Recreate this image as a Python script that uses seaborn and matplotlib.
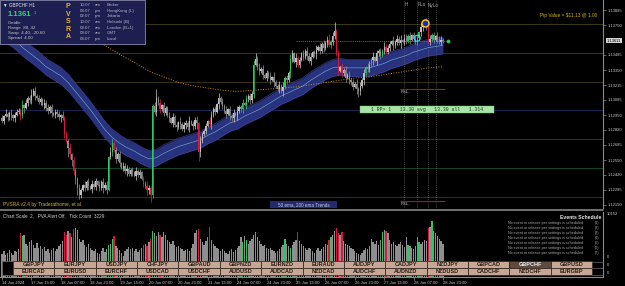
import numpy as np
import pandas as pd
import matplotlib
matplotlib.use('Agg')
import matplotlib.pyplot as plt
from matplotlib.patches import Rectangle
import seaborn as sns

# GBPCHF H1, 14 Jun 23:00 .. 28 Jun 23:00 (241 bars), prices as pips above 1.1200
first_open_pips = 92
close_pips = [
    90, 94, 96, 93, 97, 95, 92, 95, 98, 99,
    94, 104, 101, 106, 110, 108, 113, 116, 112, 110,
    107, 109, 104, 106, 101, 99, 102, 97, 95, 98,
    96, 93, 95, 92, 78, 72, 66, 60, 55, 45,
    38, 30, 24, 28, 33, 30, 35, 32, 29, 34,
    31, 36, 33, 30, 35, 30, 33, 28, 58, 62,
    70, 64, 56, 60, 52, 48, 50, 45, 47, 43,
    46, 44, 41, 45, 42, 44, 38, 34, 32, 28,
    30, 24, 103, 98, 110, 106, 100, 104, 97, 101,
    95, 92, 88, 93, 86, 84, 89, 87, 83, 86,
    88, 84, 90, 87, 85, 91, 88, 62, 72, 78,
    81, 85, 90, 87, 95, 100, 98, 105, 110, 107,
    103, 99, 96, 100, 94, 92, 97, 95, 99, 102,
    100, 106, 104, 109, 112, 108, 114, 140, 145, 138,
    134, 136, 131, 128, 132, 130, 126, 129, 124, 121,
    118, 122, 116, 120, 128, 126, 132, 145, 150, 142,
    146, 140, 144, 150, 147, 152, 148, 143, 147, 151,
    149, 153, 156, 152, 158, 155, 159, 162, 157, 160,
    165, 170, 150, 134, 138, 132, 135, 128, 131, 126,
    124, 120, 123, 118, 116, 121, 126, 132, 138, 136,
    140, 144, 147, 143, 150, 152, 148, 153, 156, 151,
    155, 158, 161, 157, 160, 163, 159, 162, 160, 164,
    161, 165, 162, 166, 163, 160, 164, 169, 173, 176,
    177, 175, 160, 163, 166, 162, 165, 163, 160, 162, 161.1]

# wick lengths in pips, one digit per bar
wick_up = ("3142231322" "2413235342" "3213242312" "2314232413" "3242132413"
           "2313242315" "4232313242" "2314231324" "3224823132" "2314231423"
           "3241323142" "2313423152" "3241323142" "2314232453" "3241323142"
           "2314232431" "4231324231" "2413242352" "4823132413" "2314232413"
           "3241323142" "2314232413" "3241323143" "2413231423" "2")
wick_dn = ("2313242312" "3241323142" "2314232413" "3241328453" "4643132413"
           "2313242312" "3242313242" "2314231324" "3632423132" "2314231423"
           "3241325842" "2313423152" "3241323142" "2314232413" "3241323142"
           "2314232431" "4231324231" "2413242312" "3223132413" "2314532413"
           "3241323142" "2314232413" "3241323143" "2413231423" "2")

# tick volume, hundreds
vol_h = [
    36, 40, 34, 38, 42, 37, 35, 41, 39, 44,
    69, 64, 66, 52, 48, 55, 58, 50, 46, 53,
    45, 49, 43, 47, 40, 44, 38, 42, 46, 41,
    44, 48, 52, 56, 70, 66, 72, 68, 62, 75,
    77, 73, 60, 55, 58, 50, 47, 52, 45, 42,
    40, 44, 38, 36, 41, 46, 39, 43, 50, 52,
    60, 64, 48, 45, 42, 38, 33, 40, 44, 47,
    43, 46, 41, 44, 39, 42, 45, 50, 52, 48,
    55, 60, 72, 68, 64, 70, 66, 62, 71, 65,
    58, 55, 52, 56, 50, 47, 49, 45, 43, 40,
    42, 44, 40, 46, 52, 68, 73, 75, 60, 55,
    50, 56, 62, 78, 58, 52, 48, 45, 43, 40,
    44, 41, 38, 36, 40, 43, 39, 42, 45, 48,
    62, 55, 64, 58, 52, 56, 60, 66, 70, 62,
    56, 52, 48, 50, 46, 43, 45, 42, 40, 38,
    41, 44, 47, 50, 60, 52, 48, 46, 50, 54,
    58, 70, 56, 52, 48, 45, 42, 46, 43, 40,
    38, 42, 45, 40, 44, 47, 52, 50, 58, 62,
    66, 72, 76, 68, 65, 70, 56, 52, 50, 48,
    45, 43, 40, 38, 36, 34, 38, 42, 46, 44,
    48, 60, 54, 52, 56, 50, 58, 70, 74, 72,
    68, 58, 52, 54, 50, 48, 52, 55, 50, 47,
    62, 50, 48, 46, 44, 48, 63, 55, 52, 54,
    58, 56, 76, 78, 88, 72, 68, 64, 60, 56, 52]

# PVSRA climax bars
red_bars = [10, 34, 35, 37, 39, 61, 77, 79, 81, 86, 107, 113, 161, 178, 182, 183, 185, 209, 232]
green_bars = [11, 58, 60, 82, 131, 133, 137, 154, 157, 179, 198, 201, 207, 221, 226, 227, 234]

# 50 ema (every 4 bars) and 200 ema (every 8 bars), pips above 1.1200
ema50_pips = [169, 165, 160, 154, 149, 144, 138, 134, 130, 124,
              116, 108, 100, 91, 82, 75, 70, 66, 63, 59,
              56, 57, 61, 64, 67, 69, 71, 73, 77, 80,
              84, 88, 90, 94, 97, 100, 104, 108, 112, 115,
              118, 121, 126, 130, 134, 137, 138, 137, 137, 137,
              137, 139, 141, 144, 146, 148, 151, 153, 155, 156, 157]
ema200_pips = [191, 187, 183, 178, 173, 169, 163, 157, 149, 142,
               134, 129, 124, 121, 119, 117, 116, 117, 118, 119,
               120, 122, 124, 126, 128, 129, 131, 133, 135, 137, 138]
band_half_pips = 7.5

level_prices = [1.13760, 1.13502, 1.13244, 1.12995, 1.12737, 1.12479, 1.12221]
level_colors = ['#3b3a14', '#174236', '#3a3118', '#1b2654', '#3a3214', '#16482b', '#3d2e16']
rsl_levels = [1.13180, 1.12182]
session_bars = [219, 226, 232, 236]
session_names = ['H', 'PLo', 'NyLo']
bid = 1.13611
swing_high = (230, 1.13770)
swing_mark = (226, 1.13633)
axis_prices = [1.13885, 1.13750, 1.13485, 1.13350, 1.13215, 1.13085, 1.12950,
               1.12820, 1.12685, 1.12550, 1.12420, 1.12285, 1.12150]
date_bars = list(range(0, 241, 16))
date_labels = ['14 Jun 2024', '17 Jun 15:00', '18 Jun 07:00', '18 Jun 23:00', '19 Jun 15:00',
               '20 Jun 07:00', '20 Jun 23:00', '21 Jun 15:00', '24 Jun 07:00', '24 Jun 23:00',
               '25 Jun 15:00', '26 Jun 07:00', '26 Jun 23:00', '27 Jun 15:00', '28 Jun 07:00',
               '28 Jun 23:00']
row1 = ['GBPJPY', 'EURJPY', 'USDJPY', 'CHFJPY', 'GBPAUD', 'GBPNZD', 'EURNZD',
        'EURAUD', 'AUDJPY', 'CADJPY', 'NZDJPY', 'GBPCAD', 'GBPCHF', 'GBPUSD']
row2 = ['EURCAD', 'EURUSD', 'EURCHF', 'USDCAD', 'USDCHF', 'AUDUSD', 'AUDCAD',
        'NZDCAD', 'AUDCHF', 'AUDNZD', 'NZDUSD', 'CADCHF', 'NZDCHF', 'EURGBP']
clock_rows = [('10:07', 'am', 'Broker'), ('03:07', 'pm', 'HongKong (L)'), ('02:07', 'pm', 'Jakarta'),
              ('10:07', 'am', 'Helsinki (B)'), ('08:07', 'am', 'London (B+1)'),
              ('08:07', 'am', 'GMT'), ('03:07', 'pm', 'Local')]

RED, GREEN, BULL, BEAR, VOLGREY = '#d81b3c', '#2ec460', '#bdbdbd', '#8a8a8a', '#8e8e8e'

sns.set_theme(style='dark', rc={'axes.facecolor': 'black', 'figure.facecolor': 'black'})
plt.rcParams['font.family'] = ['Liberation Sans', 'DejaVu Sans']

W, H = 625, 286
fig = plt.figure(figsize=(W / 100, H / 100), dpi=100)
fig.patch.set_facecolor('black')


def px(x0, y0, x1, y1):
    return [x0 / W, 1 - y1 / H, (x1 - x0) / W, (y1 - y0) / H]


bars = np.arange(len(close_pips))
close = 1.12 + np.array(close_pips) / 1e4
opn = np.r_[1.12 + first_open_pips / 1e4, close[:-1]]
hi = np.maximum(opn, close) + np.array([int(c) for c in wick_up]) / 1e4
lo = np.minimum(opn, close) - np.array([int(c) for c in wick_dn]) / 1e4

kind = np.array(['n'] * len(bars), dtype=object)
kind[red_bars] = 'r'
kind[green_bars] = 'g'
ccol = np.where(kind == 'r', RED, np.where(kind == 'g', GREEN, np.where(close >= opn, BULL, BEAR)))

xlim = (-1.09, 327.1)

# ---------------- main price panel ----------------
ax = fig.add_axes(px(0, 0, 603, 208))
ax.set_facecolor('black')
for lvl, c in zip(level_prices, level_colors):
    ax.axhline(lvl, color=c, lw=0.7, zorder=1)

e50_x = np.arange(0, 241, 4)
e50 = 1.12 + np.array(ema50_pips) / 1e4
half = band_half_pips / 1e4
ax.fill_between(e50_x, e50 - half, e50 + half, color='#29327c', lw=0, zorder=2)
ax.plot(e50_x, e50 - half, color='#3a46a0', lw=0.4, zorder=2)
ax.plot(e50_x, e50 + half, color='#3a46a0', lw=0.4, zorder=2)
sns.lineplot(x=e50_x, y=e50, ax=ax, color='#6fa6dc', lw=0.45, zorder=3)
e200_x = np.arange(0, 241, 8)
sns.lineplot(x=e200_x, y=1.12 + np.array(ema200_pips) / 1e4, ax=ax, color='#d08a1c',
             lw=0.7, linestyle=(0, (1, 1.6)), zorder=3)

ax.vlines(session_bars, 1.1212, 1.1398, colors='#5e5e5e', linestyles=(0, (1, 1.5)), lw=0.6, zorder=2)
ax.hlines(bid, 160, 242, colors='#8c8c8c', linestyles=(0, (1.5, 1.5)), lw=0.5, zorder=2)

ax.vlines(bars, lo, hi, colors=ccol, lw=0.55, zorder=5)
body_lo = np.minimum(opn, close)
body_h = np.maximum(np.abs(close - opn), 0.00002)
ax.bar(bars, body_h, bottom=body_lo, width=0.72, color=ccol, lw=0, zorder=6)

ax.scatter([swing_high[0]], [swing_high[1]], s=26, facecolors='#1a2ad0', edgecolors='#ffd21e',
           linewidths=1.0, zorder=8)
ax.scatter([swing_mark[0]], [swing_mark[1]], s=18, facecolors='none', edgecolors='#35d6f0',
           linewidths=0.9, zorder=8)
ax.scatter([243], [bid], s=3, color='#1fcc55', zorder=8)

ax.hlines(rsl_levels, 216.5, 241, colors='#b0102c', lw=0.8, zorder=7)
for lvl in rsl_levels:
    ax.annotate('RSL-', (217, lvl), xytext=(0, -0.8), textcoords='offset points',
                va='top', ha='left', fontsize=3, color='#c8c8c8', zorder=7)

for b, name in zip([220, 226.4, 231.8], session_names):
    ax.text(b, 1 - 5 / 208, name, transform=ax.get_xaxis_transform(),
            ha='center' if name == 'H' else 'left', va='center', fontsize=3.3, color='#b0b0b0')

ax.set_xlim(*xlim)
ax.set_ylim(1.12123, 1.13974)
ax.set_xlabel('')
ax.set_ylabel('')
ax.set_xticks([])
ax.yaxis.tick_right()
ax.set_yticks(axis_prices)
ax.set_yticklabels([f'{p:.5f}' for p in axis_prices])
ax.tick_params(axis='y', colors='#8a8a8a', labelcolor='#c8c8c8', labelsize=3, length=2,
               width=0.5, pad=1.5, right=True, left=False)
ax.grid(False)
for s in ['top', 'left', 'bottom']:
    ax.spines[s].set_visible(False)
ax.spines['right'].set_color('#8a8a8a')
ax.spines['right'].set_linewidth(0.8)
ax.annotate(f'{bid:.5f}', xy=(1, bid), xycoords=('axes fraction', 'data'), xytext=(2.6, 0),
            textcoords='offset points', va='center', ha='left', fontsize=3, color='black',
            bbox=dict(boxstyle='square,pad=0.15', fc='#d4d4d4', ec='none'))

# ---------------- volume panel ----------------
ax_vol = fig.add_axes(px(0, 212, 603, 277))
ax_vol.set_facecolor('black')
vol_df = pd.DataFrame({'bar': bars, 'ticks': np.array(vol_h) * 100, 'kind': kind})
sns.barplot(data=vol_df, x='bar', y='ticks', hue='kind', native_scale=True, dodge=False,
            palette={'n': VOLGREY, 'r': RED, 'g': GREEN}, errorbar=None, width=0.72,
            saturation=1, legend=False, linewidth=0, ax=ax_vol)
ax_vol.set_xlim(*xlim)
ax_vol.set_ylim(0, 10152)
ax_vol.set_xlabel('')
ax_vol.set_ylabel('')
ax_vol.set_yticks([])
ax_vol.set_xticks(date_bars)
ax_vol.set_xticklabels(date_labels, ha='left')
ax_vol.tick_params(axis='x', colors='#8a8a8a', labelcolor='#c8c8c8', labelsize=3, length=2,
                   width=0.5, pad=0.8, bottom=True)
ax_vol.grid(False)
for s in ['top', 'left']:
    ax_vol.spines[s].set_visible(False)
for s in ['right', 'bottom']:
    ax_vol.spines[s].set_color('#8a8a8a')
    ax_vol.spines[s].set_linewidth(0.8)

# ---------------- overlay: boxes, buttons, labels ----------------
ov = fig.add_axes([0, 0, 1, 1])
ov.set_xlim(0, W)
ov.set_ylim(H, 0)
ov.axis('off')
ov.patch.set_alpha(0)
ov.set_zorder(10)


def t(x, y, s, **kw):
    kw.setdefault('fontsize', 3.2)
    kw.setdefault('va', 'center')
    ov.text(x, y, s, **kw)


# info box
ov.add_patch(Rectangle((0, 0), 144.5, 43.5, fc='#1d1f50', ec='#8a8ab0', lw=0.6))
t(3, 5, '▼ GBPCHF H1', color='#e8e8e8', fontsize=3.3)
t(8, 15, '1.1361', color='#2fd37a', fontsize=5.6, fontweight='bold')
t(34, 12.5, '1', color='#2fd37a', fontsize=3)
for i, s in enumerate(['Candle', 'Range  88, 42', 'Swap  4.40, -20.60', 'Spread  4.00']):
    t(8, 23 + 5 * i, s, color='#c4c4c4')
for i, ch in enumerate('PVSRA'):
    t(68, 7 + 7.4 * i, ch, color='#e6b422', fontsize=5, fontweight='bold', ha='center')
for i, (tm, ap, place) in enumerate(clock_rows):
    y = 5 + 5.7 * i
    t(80, y, tm, color='#b4b4c8')
    t(95, y, ap, color='#b4b4c8')
    t(107, y, place, color='#b4b4c8')

t(597, 15, 'Pip Value = $11.13 @ 1.00', color='#d9b600', fontsize=3.4, ha='right')

ov.add_patch(Rectangle((360, 106), 134, 7, fc='#a7e4a7', ec='#7fc07f', lw=0.3))
t(427, 109.7, '1 RP> 1   13.30 avg   13.30 all   1.314', color='#1e3a1e', fontsize=3.5,
  ha='center', family=['Liberation Mono', 'DejaVu Sans Mono'])

t(3, 204.5, 'PVSRA v2.4 by Traderathome, et al.', color='#d6ad2e', fontsize=3.5)
ov.add_patch(Rectangle((270, 201), 67, 6.5, fc='#232a6e', ec='none'))
t(303.5, 204.3, '50 ema, 200 ema Trends', color='#c8cde8', fontsize=3.3, ha='center')

ov.plot([0, 603], [209.8, 209.8], color='#7c7c7c', lw=1.3)
t(3, 215.5, 'Chart Scale  2,   PVA Alert Off,   Tick Count  3229', color='#d0d0d0', fontsize=3.3)

t(601, 217.5, 'Events Schedule', color='#e8e8e8', fontsize=3.7, fontweight='bold', ha='right')
for k in range(1, 8):
    y = 223 + 5 * (k - 1)
    t(508, y, 'No event or release per settings is scheduled', color='#a8a8a8', fontsize=2.7)
    t(599, y, f'({k})', color='#a8a8a8', fontsize=2.7, ha='right')

t(607, 214, '10152', color='#c8c8c8', fontsize=3)
for y in [257, 265, 273]:
    t(607, y, '0', color='#c8c8c8', fontsize=3)

ov.add_patch(Rectangle((2, 261), 11, 14, fc='black', ec='#6a6a6a', lw=0.5))
bw = 41.36
for r, (row, y0) in enumerate([(row1, 261), (row2, 268)]):
    for i, name in enumerate(row):
        x0 = 13 + i * bw
        active = name == 'GBPCHF'
        ov.add_patch(Rectangle((x0, y0), bw, 7, fc='#5e4b3e' if active else '#c6a795',
                               ec='#2e2018', lw=0.5))
        t(x0 + bw / 2, y0 + 3.6, name, ha='center', fontsize=4, fontweight='bold',
          color='#eeeeee' if active else '#2a1c12')
for y in [261.5, 268, 275]:
    ov.plot([592, 603], [y, y], color='#6a6a6a', lw=0.5)

fig.savefig('out.png', dpi=100, facecolor='black')
